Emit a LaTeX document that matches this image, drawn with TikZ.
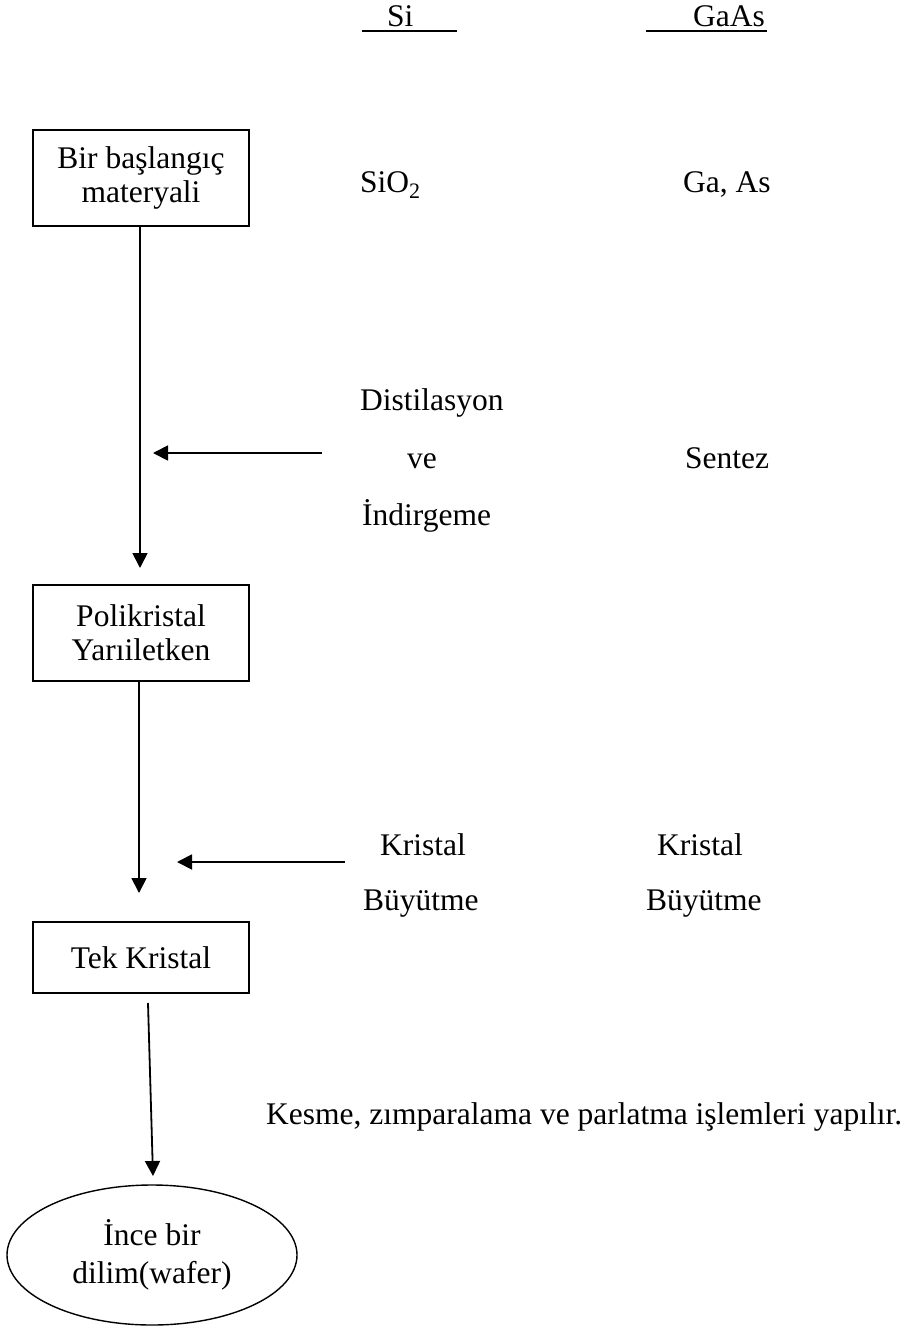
\documentclass[tikz,border=0pt]{standalone}
\usepackage{fontspec}
\setmainfont{Liberation Serif}
\usetikzlibrary{arrows.meta,shapes.geometric}

\begin{document}
\begin{tikzpicture}[x=1pt,y=-1pt,
  every node/.style={font=\fontsize{31.5}{34}\selectfont, inner sep=0pt},
  txt/.style={anchor=base west},
  stepbox/.style={draw, line width=1.8pt, minimum width=216pt, align=center},
  flow/.style={line width=1.8pt, -{Triangle[length=15pt,width=15pt]}}]
\useasboundingbox (0,0) rectangle (920,1327);
% headings
\node[txt] (si) at (387,27) {Si};
\node[txt] (gaas) at (693,27) {GaAs};
\coordinate (siL) at (362,31);
\coordinate (siR) at (457,31);
\coordinate (gaL) at (646,31);
\coordinate (gaR) at (767,31);
\draw[line width=2pt] (siL) -- (siR);
\draw[line width=2pt] (gaL) -- (gaR);
% left column boxes
\node[stepbox, minimum height=96pt] (start) at (141,178) {Bir başlangıç\\materyali};
\node[stepbox, minimum height=96pt] (poly) at (141,633) {Polikristal\\Yarıiletken};
\node[stepbox, minimum height=71pt] (mono) at (141,957.5) {Tek Kristal};
\node[draw, ellipse, line width=1.4pt, minimum width=290pt, minimum height=140pt, align=center,
  font=\fontsize{31.5}{38}\selectfont] (wafer) at (152,1255) {İnce bir\\dilim(wafer)};
% texts on the right
\node[txt] (sio) at (360,192) {SiO\textsubscript{2}};
\node[txt] (gaas2) at (683,192) {Ga, As};
\node[txt] (dist) at (360,410) {Distilasyon};
\node[txt] (ve) at (407,468) {ve};
\node[txt] (indir) at (362,525) {İndirgeme};
\node[txt] (sentez) at (685,468) {Sentez};
\node[txt] (kr1) at (380,855) {Kristal};
\node[txt] (bu1) at (363,910) {Büyütme};
\node[txt] (kr2) at (657,855) {Kristal};
\node[txt] (bu2) at (646,910) {Büyütme};
\node[txt] (kesme) at (266,1124) {Kesme, zımparalama ve parlatma işlemleri yapılır.};
% arrows
\coordinate (a1) at (140,226);
\coordinate (b1) at (140,568);
\coordinate (a2) at (139,681);
\coordinate (b2) at (139,893);
\coordinate (a3) at (148,1003);
\coordinate (b3) at (153,1176);
\coordinate (h1s) at (322,453);
\coordinate (h1e) at (153,453);
\coordinate (h2s) at (345,862);
\coordinate (h2e) at (177,862);
\draw[flow] (a1) -- (b1);
\draw[flow] (a2) -- (b2);
\draw[flow] (a3) -- (b3);
\draw[flow] (h1s) -- (h1e);
\draw[flow] (h2s) -- (h2e);
\end{tikzpicture}
\end{document}
